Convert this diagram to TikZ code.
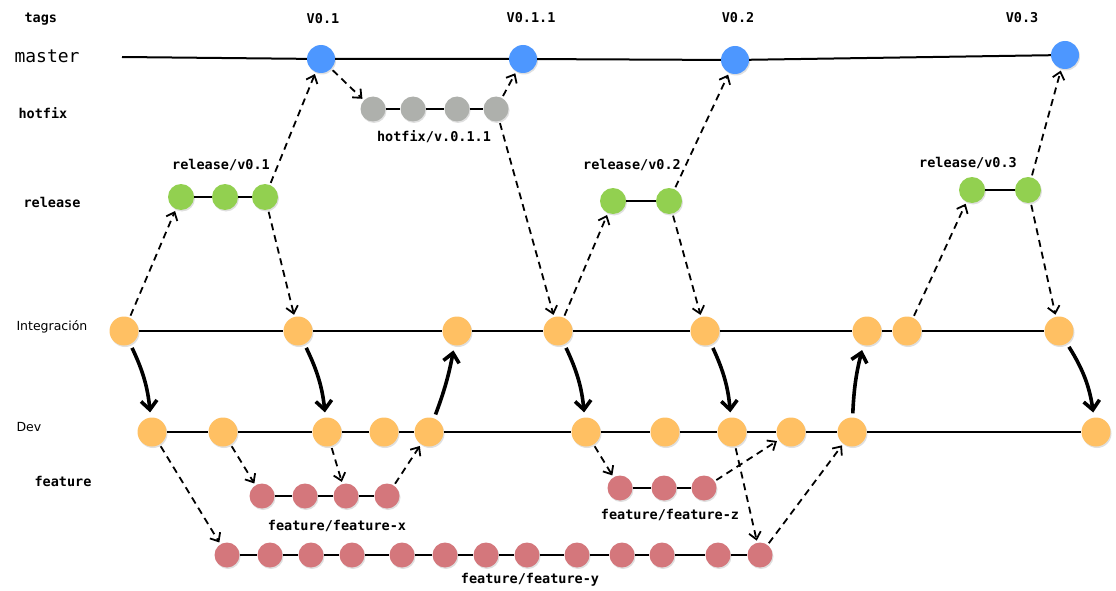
\documentclass[tikz,border=0pt]{standalone}
\usepackage{fontspec}
\setmonofont{DejaVu Sans Mono}
\setsansfont{DejaVu Sans}
\usetikzlibrary{arrows.meta,shadows}

\definecolor{gitblue}{RGB}{77,151,255}
\definecolor{gitgray}{RGB}{174,176,172}
\definecolor{gitgreen}{RGB}{146,208,80}
\definecolor{gitorange}{RGB}{255,192,99}
\definecolor{gitred}{RGB}{212,119,124}

\begin{document}
\begin{tikzpicture}[
    x=1pt,y=-1pt,
    >={Straight Barb[length=7pt,width=12pt]},
    commit/.style={circle,fill=#1,inner sep=0pt,minimum size=26pt,
        drop shadow={shadow xshift=1pt,shadow yshift=-1.5pt,opacity=0.25}},
    mastercommit/.style={commit=gitblue,minimum size=28pt},
    hotfixcommit/.style={commit=gitgray,minimum size=25pt},
    releasecommit/.style={commit=gitgreen,minimum size=26pt},
    devcommit/.style={commit=gitorange,minimum size=29pt},
    featurecommit/.style={commit=gitred,minimum size=25pt},
    branch/.style={line width=2pt},
    fork/.style={->,line width=1.8pt,dash pattern=on 7pt off 5pt,
        shorten <=2pt,shorten >=2pt},
    merge/.style={-{Straight Barb[length=9pt,width=16pt]},line width=3.6pt,
        shorten <=4pt,shorten >=5pt},
    lbl/.style={font=\ttfamily\bfseries\fontsize{13.5}{15}\selectfont},
    lane/.style={lbl,anchor=west},
    sflane/.style={anchor=west,font=\sffamily\fontsize{12.5}{15}\selectfont},
]
\useasboundingbox (0,0) rectangle (1116,591);

% === lane names ===
\node[lane] (ltags) at (21,19) {tags};
\node[lane,font=\ttfamily\fontsize{18}{20}\selectfont] (lmaster) at (11,56) {master};
\node[lane] (lhotfix) at (15,113) {hotfix};
\node[lane] (lrelease) at (20,202) {release};
\node[sflane] (lint) at (13,327) {Integración};
\node[sflane] (ldev) at (13,427) {Dev};
\node[lane] (lfeature) at (31,481) {feature};

% === master + tags ===
\coordinate (m0) at (122,57);
\node[mastercommit] (m1) at (321,59) {};
\node[mastercommit] (m2) at (523,59) {};
\node[mastercommit] (m3) at (735,60) {};
\node[mastercommit] (m4) at (1065,55) {};
\draw[branch] (m0) -- (m1) -- (m2) -- (m3) -- (m4);
\node[lbl] (t1) at (323,19) {V0.1};
\node[lbl] (t2) at (531,18) {V0.1.1};
\node[lbl] (t3) at (738,18) {V0.2};
\node[lbl] (t4) at (1022,18) {V0.3};

% === hotfix ===
\foreach \x [count=\i] in {373,413,457,496}
    \node[hotfixcommit] (h\i) at (\x,109) {};
\draw[branch] (h1) -- (h2) -- (h3) -- (h4);
\node[lbl] (hname) at (434,137) {hotfix/v.0.1.1};

% === release ===
\node[releasecommit] (ra1) at (181,197) {};
\node[releasecommit] (ra2) at (225,197) {};
\node[releasecommit] (ra3) at (265,197) {};
\draw[branch] (ra1) -- (ra2) -- (ra3);
\node[lbl] (raname) at (221,165) {release/v0.1};
\node[releasecommit] (rb1) at (613,201) {};
\node[releasecommit] (rb2) at (669,201) {};
\draw[branch] (rb1) -- (rb2);
\node[lbl] (rbname) at (632,165) {release/v0.2};
\node[releasecommit] (rc1) at (972,190) {};
\node[releasecommit] (rc2) at (1028,190) {};
\draw[branch] (rc1) -- (rc2);
\node[lbl] (rcname) at (968,163) {release/v0.3};

% === integracion ===
\foreach \x [count=\i] in {124,298,457,558,705,867,907,1059}
    \node[devcommit] (i\i) at (\x,331) {};
\draw[branch] (i1) -- (i2) -- (i3) -- (i4) -- (i5) -- (i6) -- (i7) -- (i8);

% === dev ===
\foreach \x [count=\i] in {152,223,327,384,429,586,665,732,791,852,1096}
    \node[devcommit] (d\i) at (\x,432) {};
\draw[branch] (d1) -- (d2) -- (d3) -- (d4) -- (d5) -- (d6) -- (d7) -- (d8)
    -- (d9) -- (d10) -- (d11);

% === features ===
\foreach \x [count=\i] in {262,305,346,387}
    \node[featurecommit] (fx\i) at (\x,496) {};
\draw[branch] (fx1) -- (fx2) -- (fx3) -- (fx4);
\node[lbl] (fxname) at (337,526) {feature/feature-x};
\foreach \x [count=\i] in {620,664,704}
    \node[featurecommit] (fz\i) at (\x,488) {};
\draw[branch] (fz1) -- (fz2) -- (fz3);
\node[lbl] (fzname) at (670,515) {feature/feature-z};
\foreach \x [count=\i] in {227,270,311,352,402,445,486,527,577,622,662,718,760}
    \node[featurecommit] (fy\i) at (\x,555) {};
\draw[branch] (fy1) -- (fy2) -- (fy3) -- (fy4) -- (fy5) -- (fy6) -- (fy7)
    -- (fy8) -- (fy9) -- (fy10) -- (fy11) -- (fy12) -- (fy13);
\node[lbl] (fyname) at (530,580) {feature/feature-y};

% === dashed forks ===
\draw[fork] (i1) -- (ra1);
\draw[fork] (ra3) -- (m1);
\draw[fork] (ra3) -- (i2);
\draw[fork] (m1) -- (h1);
\draw[fork] (h4) -- (m2);
\draw[fork] (h4) -- (i4);
\draw[fork] (i4) -- (rb1);
\draw[fork] (rb2) -- (m3);
\draw[fork] (rb2) -- (i5);
\draw[fork] (i7) -- (rc1);
\draw[fork] (rc2) -- (m4);
\draw[fork] (rc2) -- (i8);
\draw[fork] (d1) -- (fy1);
\draw[fork] (d2) -- (fx1);
\draw[fork] (d3) -- (fx3);
\draw[fork] (fx4) -- (d5);
\draw[fork] (d6) -- (fz1);
\draw[fork] (fz3) -- (d9);
\draw[fork] (d8) -- (fy13);
\draw[fork] (fy13) -- (d10);

% === thick merges ===
\draw[merge] (i1) to[bend left=10] (d1);
\draw[merge] (i2) to[bend left=10] (d3);
\draw[merge] (d5) to[bend right=5] (i3);
\draw[merge] (i4) to[bend left=10] (d6);
\draw[merge] (i5) to[bend left=10] (d8);
\draw[merge] (d10) to[bend left=6] (i6);
\draw[merge] (i8) to[bend left=12] (d11);
\end{tikzpicture}
\end{document}
